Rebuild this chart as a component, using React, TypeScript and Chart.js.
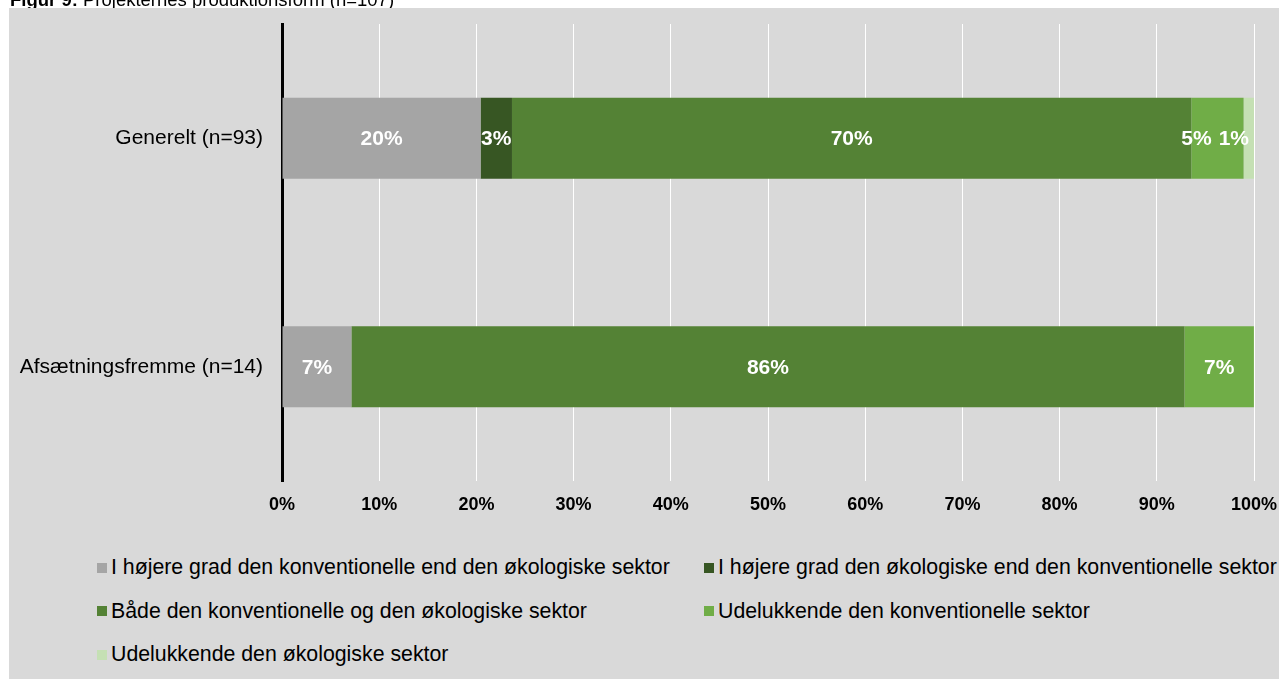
import React, { useEffect, useRef } from "react";
import { Chart, registerables } from "chart.js";

Chart.register(...registerables);

const categories = ["Generelt (n=93)", "Afsætningsfremme (n=14)"];

const seriesLabels = [
  "I højere grad den konventionelle end den økologiske sektor",
  "I højere grad den økologiske end den konventionelle sektor",
  "Både den konventionelle og den økologiske sektor",
  "Udelukkende den konventionelle sektor",
  "Udelukkende den økologiske sektor",
];

const seriesColors = ["#a5a5a5", "#375623", "#548235", "#70ad47", "#c5e0b4"];

// percentages per category
const konvMereEndOeko = [20.43, 7.14];
const oekoMereEndKonv = [3.23, 0];
const baade = [69.89, 85.71];
const kunKonv = [5.38, 7.14];
const kunOeko = [1.08, 0];

const seriesValues = [konvMereEndOeko, oekoMereEndKonv, baade, kunKonv, kunOeko];

const xMin = 0;
const xMax = 100;
const xStep = 10;

const FONT = '"Liberation Sans", Arial, sans-serif';

const labelPlugin = {
  id: "segmentLabels",
  afterDatasetsDraw(chart: any) {
    const ctx = chart.ctx;
    const area = chart.chartArea;
    ctx.save();
    ctx.font = `bold 21px ${FONT}`;
    ctx.fillStyle = "#ffffff";
    ctx.textAlign = "center";
    ctx.textBaseline = "middle";
    const nCat = chart.data.labels.length;
    for (let i = 0; i < nCat; i++) {
      const items: any[] = [];
      chart.data.datasets.forEach((ds: any, di: number) => {
        const v = ds.data[i];
        if (!v) return;
        const el = chart.getDatasetMeta(di).data[i];
        const text = Math.round(v) + "%";
        const w = ctx.measureText(text).width;
        const cx = (el.x + el.base) / 2;
        items.push({ text, w, cx, y: el.y });
      });
      // resolve overlaps from right to left
      let limit = area.right - 5;
      for (let k = items.length - 1; k >= 0; k--) {
        const it = items[k];
        let right = it.cx + it.w / 2;
        if (right > limit) {
          right = limit;
          it.cx = right - it.w / 2;
        }
        limit = it.cx - it.w / 2 - 7;
      }
      items.forEach((it) => ctx.fillText(it.text, it.cx, it.y + 1));
    }
    ctx.restore();
  },
};

export default function App() {
  const canvasRef = useRef<HTMLCanvasElement | null>(null);

  useEffect(() => {
    if (!canvasRef.current) return;
    const chart = new Chart(canvasRef.current, {
      type: "bar",
      data: {
        labels: categories,
        datasets: seriesLabels.map((label, i) => ({
          label,
          data: seriesValues[i],
          backgroundColor: seriesColors[i],
          borderWidth: 0,
          barPercentage: 0.3545,
          categoryPercentage: 1,
        })),
      },
      options: {
        indexAxis: "y",
        animation: false,
        responsive: false,
        maintainAspectRatio: false,
        layout: { padding: { left: 0, right: 33, top: 16, bottom: 0 } },
        plugins: {
          legend: { display: false },
          title: { display: false },
          tooltip: { enabled: false },
        },
        scales: {
          x: {
            stacked: true,
            min: xMin,
            max: xMax,
            afterFit: (scale: any) => {
              scale.height = 57;
              scale.paddingLeft = 0;
              scale.paddingRight = 0;
            },
            ticks: {
              stepSize: xStep,
              callback: (v: any) => v + "%",
              font: { family: FONT, size: 18, weight: "bold" },
              color: "#000000",
              padding: 13,
            },
            grid: { color: "#ffffff", lineWidth: 1, drawTicks: false },
            border: { display: false },
          },
          y: {
            stacked: true,
            afterFit: (scale: any) => {
              scale.width = 273;
              scale.paddingTop = 0;
              scale.paddingBottom = 0;
            },
            ticks: {
              font: { family: FONT, size: 21 },
              color: "#000000",
              padding: 19,
            },
            grid: { display: false, drawTicks: false },
            border: { display: true, color: "#000000", width: 3 },
          },
        },
      },
      plugins: [labelPlugin],
    } as any);
    return () => chart.destroy();
  }, []);

  return (
    <div style={{ position: "relative", width: 1279, height: 671 }}>
      <div
        style={{
          position: "fixed",
          left: 10,
          top: -9,
          fontFamily: FONT,
          fontSize: 18.5,
          lineHeight: "18.5px",
          whiteSpace: "nowrap",
          color: "#000",
          zIndex: 0,
        }}
      >
        <b>Figur 9:</b> Projekternes produktionsform (n=107)
      </div>
      <div
        style={{
          position: "absolute",
          left: 1,
          top: 0,
          width: 1278,
          height: 671,
          background: "#d9d9d9",
          zIndex: 1,
        }}
      >
        <canvas
          ref={canvasRef}
          width={1278}
          height={530}
          style={{ position: "absolute", left: 0, top: 0, width: 1278, height: 530 }}
        />
        <div
          style={{
            position: "absolute",
            left: 88,
            top: 538,
            display: "grid",
            gridTemplateColumns: "607px auto",
            fontFamily: FONT,
            fontSize: 21.3,
            color: "#000",
          }}
        >
          {seriesLabels.map((label, i) => (
            <div
              key={label}
              style={{ display: "flex", alignItems: "center", height: 43.5, whiteSpace: "nowrap" }}
            >
              <span
                style={{
                  display: "inline-block",
                  width: 10,
                  height: 10,
                  background: seriesColors[i],
                  marginRight: 4,
                  flex: "none",
                }}
              />
              <span>{label}</span>
            </div>
          ))}
        </div>
      </div>
    </div>
  );
}
